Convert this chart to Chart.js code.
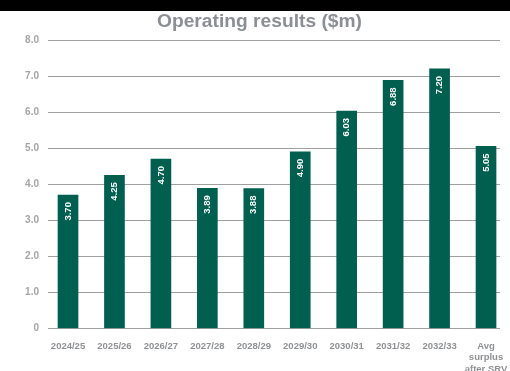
<!DOCTYPE html>
<html>
<head>
<meta charset="utf-8">
<script src="https://cdn.jsdelivr.net/npm/chart.js@4/dist/chart.umd.min.js"></script>
<style>
html,body{margin:0;padding:0;background:#fff;}
#wrap{position:relative;width:510px;height:371px;}
</style>
</head>
<body>
<div id="wrap"><canvas id="c" width="510" height="371"></canvas></div>
<script>
const categories = ["2024/25","2025/26","2026/27","2027/28","2028/29","2029/30","2030/31","2031/32","2032/33",["Avg","surplus","after SRV"]];
const values = [3.70, 4.25, 4.70, 3.89, 3.88, 4.90, 6.03, 6.88, 7.20, 5.05];
const yTickLabels = ["0","1.0","2.0","3.0","4.0","5.0","6.0","7.0","8.0"];
const titleText = "Operating results ($m)";

const FONT = "'Liberation Sans', Arial, sans-serif";

const bandAndTitle = {
  id: 'bandAndTitle',
  beforeDraw(chart) {
    const ctx = chart.ctx;
    ctx.save();
    ctx.fillStyle = '#fff';
    ctx.fillRect(0, 0, chart.width, chart.height);
    ctx.fillStyle = '#000';
    ctx.fillRect(0, 0, chart.width, 11);
    ctx.fillStyle = '#8b8f93';
    ctx.font = "bold 18px " + FONT;
    ctx.textAlign = 'center';
    ctx.textBaseline = 'alphabetic';
    const w = ctx.measureText(titleText).width;
    const target = 205;
    ctx.translate(259.5, 27);
    ctx.scale(target / w, 1);
    ctx.fillText(titleText, 0, 0);
    ctx.restore();
  }
};

const barLabels = {
  id: 'barLabels',
  afterDatasetsDraw(chart) {
    const ctx = chart.ctx;
    const meta = chart.getDatasetMeta(0);
    ctx.save();
    ctx.fillStyle = '#ffffff';
    ctx.font = "bold 9.5px " + FONT;
    ctx.textAlign = 'right';
    ctx.textBaseline = 'middle';
    meta.data.forEach((bar, i) => {
      ctx.save();
      ctx.translate(bar.x, bar.y + 7);
      ctx.rotate(-Math.PI / 2);
      ctx.fillText(values[i].toFixed(2), 0, 0);
      ctx.restore();
    });
    ctx.restore();
  }
};

new Chart(document.getElementById('c'), {
  type: 'bar',
  data: {
    datasets: [{
      data: values.map((v, i) => ({x: i, y: v})),
      backgroundColor: '#005f4f',
      borderWidth: 0,
      barThickness: 20
    }]
  },
  options: {
    responsive: false,
    animation: false,
    devicePixelRatio: 1,
    layout: { padding: { top: 40, right: 10, bottom: 0, left: 0 } },
    plugins: { legend: { display: false }, tooltip: { enabled: false }, title: { display: false } },
    scales: {
      x: {
        type: 'linear',
        offset: false,
        min: -0.431,
        max: 9.301,
        afterFit(scale) { scale.height = 42.5; scale.paddingLeft = 0; scale.paddingRight = 0; },
        grid: { display: false, drawTicks: false, offset: false },
        border: { display: false },
        ticks: {
          stepSize: 1,
          includeBounds: false,
          autoSkip: false,
          maxRotation: 0,
          padding: 12,
          color: '#8f9194',
          font: { family: FONT, size: 9.5, weight: 'bold', lineHeight: 1.2 },
          callback: (v) => Number.isInteger(v) && v >= 0 && v < categories.length ? categories[v] : ''
        }
      },
      y: {
        min: 0,
        max: 8,
        afterFit(scale) { scale.width = 48; scale.paddingTop = 0; scale.paddingBottom = 0; },
        grid: { color: '#a0a0a0', lineWidth: 1, drawTicks: false },
        border: { display: false },
        ticks: {
          stepSize: 1,
          padding: 9,
          color: '#a3a5a7',
          font: { family: FONT, size: 10, weight: 'bold' },
          callback: (v) => yTickLabels[v]
        }
      }
    }
  },
  plugins: [bandAndTitle, barLabels]
});
</script>
</body>
</html>
